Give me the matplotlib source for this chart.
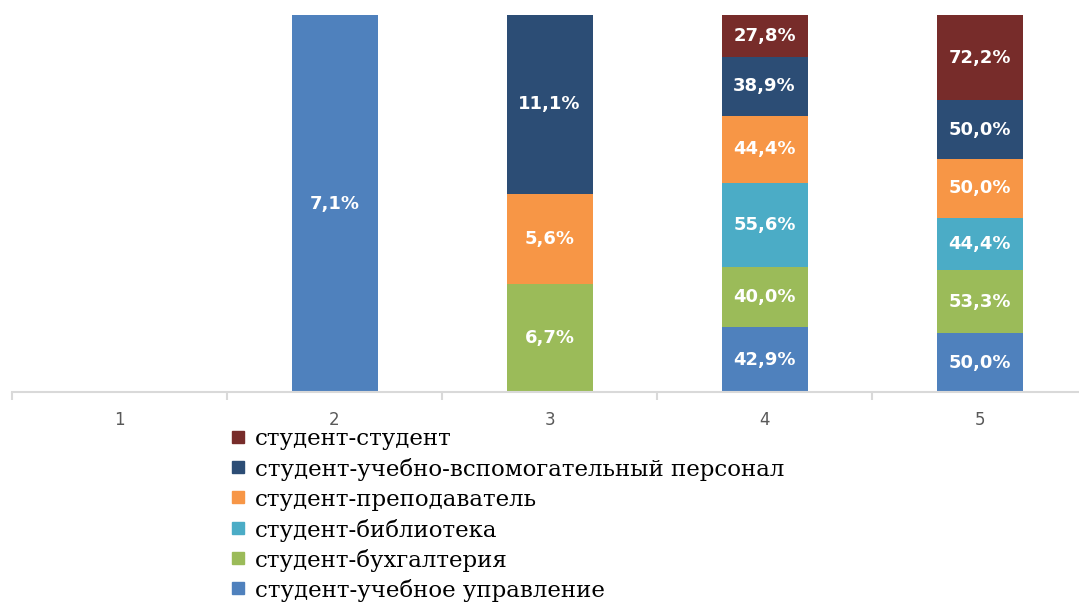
import matplotlib
matplotlib.use("Agg")
import matplotlib.pyplot as plt
from matplotlib.patches import Rectangle

# categories (x axis)
categories = ["1", "2", "3", "4", "5"]

# series values, bottom to top of each column
series_names = [
    "студент-учебное управление",
    "студент-бухгалтерия",
    "студент-библиотека",
    "студент-преподаватель",
    "студент-учебно-вспомогательный персонал",
    "студент-студент",
]
upravlenie = [0, 7.1, 0, 42.9, 50.0]
buhgalteria = [0, 0, 6.7, 40.0, 53.3]
biblioteka = [0, 0, 0, 55.6, 44.4]
prepodavatel = [0, 0, 5.6, 44.4, 50.0]
personal = [0, 0, 11.1, 38.9, 50.0]
student = [0, 0, 0, 27.8, 72.2]
series_values = [upravlenie, buhgalteria, biblioteka, prepodavatel, personal, student]
colors = ["#4F81BD", "#9BBB59", "#4BACC6", "#F79646", "#2C4D75", "#772C2A"]

W, H = 1079, 603
fig = plt.figure(figsize=(W / 100, H / 100), dpi=100)
ax = fig.add_axes([12 / W, (H - 392) / H, 1075 / W, 377 / H])

x = list(range(1, len(categories) + 1))
totals = [sum(s[i] for s in series_values) for i in range(len(categories))]
bottoms = [0.0] * len(categories)

# 100% stacked columns
for vals, col in zip(series_values, colors):
    for i in range(len(categories)):
        if vals[i] == 0:
            continue
        h = vals[i] / totals[i]
        ax.bar(x[i], h, bottom=bottoms[i], width=0.4, color=col, edgecolor="none")
        ax.text(x[i], bottoms[i] + h / 2, ("%.1f%%" % vals[i]).replace(".", ","),
                ha="center", va="center", color="white", fontsize=13,
                fontweight="bold", family="DejaVu Sans")
        bottoms[i] += h

ax.set_xlim(0.5, len(categories) + 0.5)
ax.set_ylim(0, 1)
for s in ["top", "right", "left"]:
    ax.spines[s].set_visible(False)
ax.spines["bottom"].set_color("#D9D9D9")
ax.spines["bottom"].set_linewidth(1.5)
ax.set_yticks([])
ax.set_xticks([i + 0.5 for i in range(len(categories) + 1)])
ax.set_xticklabels([])
ax.tick_params(axis="x", which="major", length=6, width=1.5, color="#D9D9D9")
ax.set_xticks(x, minor=True)
ax.set_xticklabels(categories, minor=True)
ax.tick_params(axis="x", which="minor", length=0, pad=14, labelsize=12, labelcolor="#595959")

# legend drawn under the axis, top entry is the last series
for k, (name, col) in enumerate(zip(series_names[::-1], colors[::-1])):
    yc = 437 + k * 30.2
    fig.patches.append(Rectangle((232 / W, 1 - (yc + 6) / H), 12 / W, 12 / H,
                                 transform=fig.transFigure, color=col))
    fig.text(255 / W, 1 - yc / H, name, ha="left", va="center_baseline",
             fontsize=16.5, family="DejaVu Serif", color="black")

fig.savefig("out.png", dpi=100)
